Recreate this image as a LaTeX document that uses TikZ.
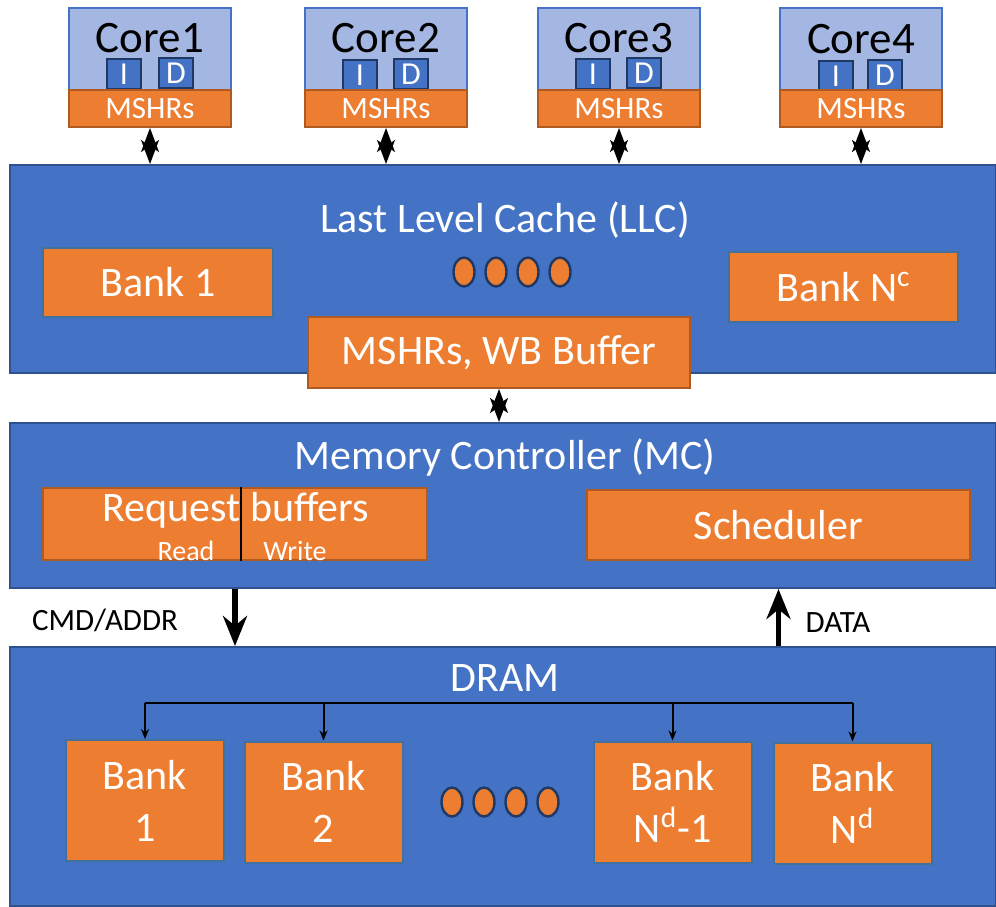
\documentclass[tikz,border=0pt]{standalone}
\usepackage{fontspec}
\setmainfont{Carlito}
\usepackage{tikz}
\usetikzlibrary{shapes.geometric,arrows.meta}

\definecolor{blueback}{HTML}{4472C4}
\definecolor{blueedge}{HTML}{2F528F}
\definecolor{orangeback}{HTML}{ED7D31}
\definecolor{orangeedge}{HTML}{AE5A21}
\definecolor{bankedge}{HTML}{41719C}
\definecolor{coreback}{HTML}{A4B6E2}
\definecolor{navy}{HTML}{203864}

\newcommand{\bigtext}{\fontsize{21}{26}\selectfont}
\newcommand{\midtext}{\fontsize{15.5}{18}\selectfont}

\begin{document}
\begin{tikzpicture}[x=0.5pt, y=-0.5pt,
  layerbox/.style={draw=blueedge, fill=blueback, line width=1pt, inner sep=0pt, minimum width=493pt},
  unitbox/.style={draw=orangeedge, fill=orangeback, line width=1pt, inner sep=0pt, text=white, font=\bigtext},
  bankbox/.style={unitbox, draw=bankedge, minimum width=79pt, minimum height=60.5pt, align=center},
  corebox/.style={draw=blueback, fill=coreback, line width=0.8pt, inner sep=0pt, minimum width=81pt, minimum height=42pt},
  mshrbox/.style={unitbox, minimum width=81pt, minimum height=18.5pt, font=\midtext},
  cachebox/.style={draw=navy, fill=blueback, line width=1.2pt, inner sep=0pt, minimum width=17pt, minimum height=15pt, text=white, font=\fontsize{16}{16}\selectfont},
  gapdot/.style={ellipse, draw=navy, fill=orangeback, line width=1.2pt, inner sep=0pt, minimum width=10.5pt, minimum height=14.5pt},
  titletext/.style={text=white, font=\bigtext},
  coretitle/.style={text=black, inner sep=0pt, font=\fontsize{22.5}{24}\selectfont},
  sidetext/.style={text=black, font=\midtext},
  bidir/.style={{Stealth[length=12pt,width=9pt,inset=3pt]}-{Stealth[length=12pt,width=9pt,inset=3pt]}, line width=1pt},
  busarrow/.style={-{Stealth[length=5pt,width=4pt]}, line width=1pt},
  bigarrow/.style={-{Stealth[length=15pt,width=12pt]}, line width=2.6pt}]

 \useasboundingbox (0,0) rectangle (996,906);

 % cores
 \node[corebox] (core1) at (150,50) {};
 \node[corebox] (core2) at (386,50) {};
 \node[corebox] (core3) at (619,50) {};
 \node[corebox] (core4) at (861,50) {};

 \node[coretitle] (core1t) at (150,38) {Core1};
 \node[coretitle] (core2t) at (386,38) {Core2};
 \node[coretitle] (core3t) at (619,38) {Core3};
 \node[coretitle] (core4t) at (861,39) {Core4};

 \node[cachebox] (core1i) at (124,74) {I};
 \node[cachebox] (core1d) at (176,73) {D};
 \node[cachebox] (core2i) at (360,75) {I};
 \node[cachebox] (core2d) at (411,74) {D};
 \node[cachebox] (core3i) at (593,74) {I};
 \node[cachebox] (core3d) at (644,73) {D};
 \node[cachebox] (core4i) at (836,76) {I};
 \node[cachebox] (core4d) at (885,75) {D};

 \node[mshrbox] (mshr1) at (150,108.5) {MSHRs};
 \node[mshrbox] (mshr2) at (386,108.5) {MSHRs};
 \node[mshrbox] (mshr3) at (619,108.5) {MSHRs};
 \node[mshrbox] (mshr4) at (861,108.5) {MSHRs};

 % last level cache
 \node[layerbox, minimum height=104pt] (llc) at (503,269) {};
 \node[titletext] (llct) at (505,220) {Last Level Cache (LLC)};
 \node[unitbox, draw=bankedge, minimum width=115pt, minimum height=34.5pt] (llcb1) at (158,282.5) {Bank 1};
 \node[unitbox, draw=bankedge, minimum width=114.5pt, minimum height=35pt] (llcbn) at (843.5,287) {Bank N\textsuperscript{c}};
 \node[gapdot] (llcg1) at (464,272) {};
 \node[gapdot] (llcg2) at (496,272) {};
 \node[gapdot] (llcg3) at (528,272) {};
 \node[gapdot] (llcg4) at (560,272) {};
 \node[unitbox, minimum width=191pt, minimum height=35.5pt] (wbuf) at (499,352.5) {MSHRs, WB Buffer};

 \draw[bidir] (mshr1.south) -- (mshr1.south |- llc.north);
 \draw[bidir] (mshr2.south) -- (mshr2.south |- llc.north);
 \draw[bidir] (mshr3.south) -- (mshr3.south |- llc.north);
 \draw[bidir] (mshr4.south) -- (mshr4.south |- llc.north);

 % memory controller
 \node[layerbox, minimum height=82.5pt] (mc) at (503,505.5) {};
 \node[titletext] (mct) at (505,458) {Memory Controller (MC)};
 \node[unitbox, minimum width=192pt, minimum height=36pt] (rbuf) at (235,524) {};
 \node[titletext] (rbuft) at (236,510) {Request buffers};
 \node[text=white, font=\fontsize{14}{14}\selectfont] (rbufr) at (186,551) {Read};
 \node[text=white, font=\fontsize{14}{14}\selectfont] (rbufw) at (295,551) {Write};
 \draw[line width=0.8pt] (rbuf.north -| 241,0) -- (rbuf.south -| 241,0);
 \node[unitbox, minimum width=191.5pt, minimum height=35pt] (sched) at (778.5,525) {Scheduler};

 \draw[bidir] (wbuf.south) -- (wbuf.south |- mc.north);

 % dram
 \node[layerbox, minimum height=129.5pt] (dram) at (503,776.5) {};
 \node[titletext] (dramt) at (505,678) {DRAM};
 \node[bankbox] (b1) at (145,800.5) {Bank\\1};
 \node[bankbox] (b2) at (323.5,802) {Bank\\2};
 \node[bankbox] (b3) at (672.5,802) {Bank\\N\textsuperscript{d}-1};
 \node[bankbox] (b4) at (852.5,803) {Bank\\N\textsuperscript{d}};
 \node[gapdot] (dramg1) at (452,802) {};
 \node[gapdot] (dramg2) at (484,802) {};
 \node[gapdot] (dramg3) at (516,802) {};
 \node[gapdot] (dramg4) at (548,802) {};

 % bus
 \coordinate (bus) at (500,703);
 \draw[line width=1pt] (b1.north |- bus) -- (b4.north |- bus);
 \draw[busarrow] (b1.north |- bus) -- (b1.north);
 \draw[busarrow] (b2.north |- bus) -- (b2.north);
 \draw[busarrow] (b3.north |- bus) -- (b3.north);
 \draw[busarrow] (b4.north |- bus) -- (b4.north);

 % command and data
 \draw[bigarrow] (rbuf.south |- mc.south) -- (rbuf.south |- dram.north);
 \draw[bigarrow] (sched.south |- dram.north) -- (sched.south |- mc.south);
 \node[sidetext] (cmd) at (105,620) {CMD/ADDR};
 \node[sidetext] (data) at (838,623) {DATA};

\end{tikzpicture}
\end{document}
